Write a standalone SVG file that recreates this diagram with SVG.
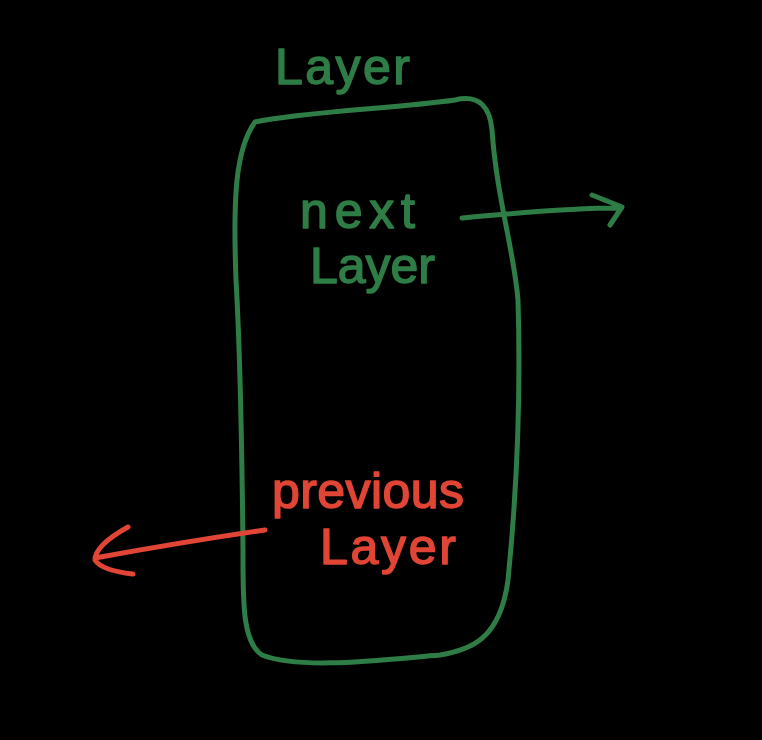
<svg xmlns="http://www.w3.org/2000/svg" width="762" height="740" viewBox="0 0 762 740">
  <style>
    .ink { fill: none; stroke-linecap: round; stroke-linejoin: round; }
    .green { stroke: #2f7d46; }
    .red { stroke: #e04535; }
    .label { font-family: "Liberation Sans", "DejaVu Sans", sans-serif; font-size: 50px; stroke-width: 1.5; stroke-linejoin: round; }
    .tg { fill: #2f7d46; stroke: #2f7d46; }
    .tr { fill: #e04535; stroke: #e04535; }
  </style>
  <rect width="762" height="740" fill="#000"/>

  <g id="layer-box">
    <path class="ink green" stroke-width="5" d="M 255 122 C 300 112, 400 108, 455 100 C 480 94, 490 108, 492 130 C 497 200, 514 250, 518 300 C 521 400, 516 500, 508 580 C 500 640, 470 650, 440 655 C 380 660, 300 670, 262 655 C 242 642, 243 600, 243 550 C 242 450, 240 350, 236 280 C 233 200, 235 150, 255 122 Z"/>
    <text class="label tg" x="275" y="84" textLength="135" lengthAdjust="spacing">Layer</text>
  </g>

  <g id="next-layer">
    <text class="label tg" x="300" y="228" textLength="115" lengthAdjust="spacing">next</text>
    <text class="label tg" x="310" y="283" textLength="125" lengthAdjust="spacing">Layer</text>
  </g>

  <g id="previous-layer">
    <text class="label tr" x="272" y="508" textLength="192" lengthAdjust="spacing">previous</text>
    <text class="label tr" x="320" y="564" textLength="136" lengthAdjust="spacing">Layer</text>
  </g>

  <g id="connectors">
    <path class="ink green" stroke-width="5" d="M 462 218 C 510 214, 560 208, 620 208 M 592 195 L 622 207 L 610 225"/>
    <path class="ink red" stroke-width="5" d="M 265 530 C 210 538, 150 548, 95 558 M 128 527 C 110 537, 95 548, 95 560 C 100 568, 115 572, 133 574"/>
  </g>
</svg>
